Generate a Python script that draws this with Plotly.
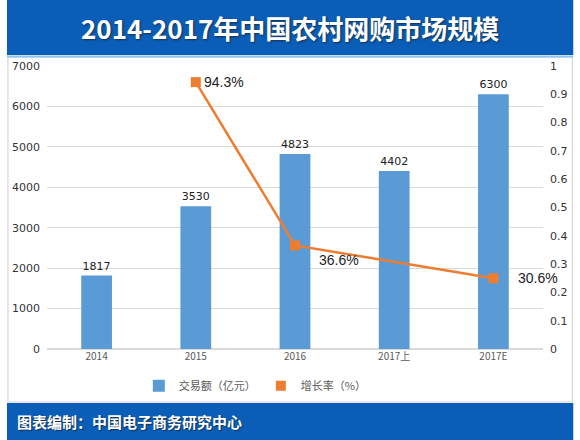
import plotly.graph_objects as go

# 数据
categories = ['2014', '2015', '2016', '2017上', '2017E']
volume = [1817, 3530, 4823, 4402, 6300]          # 交易额（亿元）
growth = [None, 0.943, 0.366, None, 0.25]         # 增长率（图上位置）
growth_labels = ['', '94.3%', '36.6%', '', '30.6%']
# 标签偏移 (px)
label_dx = [0, 6, 22, 0, 23]
label_dy = [0, 0, -15, 0, 0]

BLUE_HEAD = '#0a5eb8'
BAR_COLOR = '#5b9bd5'
LINE_COLOR = '#ed7d31'
CJK = 'Noto Sans CJK SC'

fig = go.Figure()

fig.add_trace(go.Bar(
    x=categories, y=volume, name='交易额（亿元）',
    marker=dict(color=BAR_COLOR, line=dict(width=0)),
    text=[str(v) for v in volume], textposition='outside',
    textfont=dict(size=11, color='#222222', family='DejaVu Sans'),
    cliponaxis=False,
))

fig.add_trace(go.Scatter(
    x=categories, y=growth, yaxis='y2', mode='lines+markers',
    connectgaps=True, showlegend=False,
    line=dict(color=LINE_COLOR, width=2.5),
    marker=dict(symbol='square', size=10, color=LINE_COLOR),
    cliponaxis=False,
))

# 图例用
fig.add_trace(go.Scatter(
    x=[None], y=[None], yaxis='y2', mode='markers', name='增长率（%）',
    marker=dict(symbol='square', size=10, color=LINE_COLOR),
))

# 增长率标签（分类轴上用序号定位，避免 '2015' 被当成数字）
annotations = []
for i, (g, lab, dx, dy) in enumerate(zip(growth, growth_labels, label_dx, label_dy)):
    if g is None:
        continue
    annotations.append(dict(
        x=i, y=g, xref='x', yref='y2', text=lab, showarrow=False,
        xanchor='left', yanchor='middle', xshift=dx, yshift=dy,
        font=dict(size=14, color='#222222', family='Liberation Sans'),
    ))

annotations += [
    dict(text='<b>2014-2017年中国农村网购市场规模</b>', xref='paper', yref='paper',
         x=(290-41)/508, y=1+(66-28)/283, xanchor='center', yanchor='middle',
         showarrow=False,
         font=dict(size=26, color='white', family=CJK, shadow='1px 1px 2px #1b2f4a')),
    dict(text='<b>图表编制：中国电子商务研究中心</b>', xref='paper', yref='paper',
         x=-33/508, y=(349-421)/283, xanchor='left', yanchor='middle',
         showarrow=False,
         font=dict(size=15, color='white', family=CJK, shadow='1px 1px 1px #1b2f4a')),
]

fig.update_layout(
    width=580, height=440,
    margin=dict(l=41, r=31, t=66, b=91),
    paper_bgcolor='white', plot_bgcolor='white',
    font=dict(family=CJK, color='#404040'),
    bargap=0.69,
    showlegend=True,
    legend=dict(orientation='h', x=0.42, xanchor='center', y=-0.13, yanchor='middle',
                font=dict(size=11, color='#595959', family=CJK),
                bgcolor='rgba(0,0,0,0)'),
    xaxis=dict(type='category', categoryorder='array', categoryarray=categories,
               range=[-0.5, len(categories) - 0.5],
               showgrid=False, showline=False, ticks='',
               tickfont=dict(size=10, color='#595959', family=CJK)),
    yaxis=dict(range=[0, 7000], dtick=1000, showgrid=True, gridcolor='#d9d9d9',
               gridwidth=1, zeroline=True, zerolinecolor='#d9d9d9', showline=False,
               tickfont=dict(size=11, color='#333333', family='DejaVu Sans'),
               ticklabelstandoff=6),
    yaxis2=dict(range=[0, 1], dtick=0.1, overlaying='y', side='right', showgrid=False,
                zeroline=False, showline=False,
                tickfont=dict(size=11, color='#333333', family='DejaVu Sans'),
                ticklabelstandoff=6),
    shapes=[
        # 外框
        dict(type='rect', xref='paper', yref='paper', x0=-40/508, x1=1+30/508,
             y0=(349-402)/283, y1=1+(66-57)/283, line=dict(color='#cfcfcf', width=1),
             layer='below'),
        # 标题栏
        dict(type='rect', xref='paper', yref='paper', x0=-41/508, x1=1+31/508,
             y0=1+(66-55)/283, y1=1+66/283, fillcolor=BLUE_HEAD, line=dict(width=0)),
        dict(type='line', xref='paper', yref='paper', x0=-41/508, x1=1+31/508,
             y0=1+(66-56.5)/283, y1=1+(66-56.5)/283, line=dict(color='#8ec3ef', width=2)),
        # 底栏
        dict(type='rect', xref='paper', yref='paper', x0=-41/508, x1=1+31/508,
             y0=(349-440)/283, y1=(349-403)/283, fillcolor=BLUE_HEAD, line=dict(width=0)),
    ],
    annotations=annotations,
)

fig.write_html('out.html', config={'displayModeBar': False},
               post_script="document.body.style.margin='0';document.body.style.overflow='hidden';")
